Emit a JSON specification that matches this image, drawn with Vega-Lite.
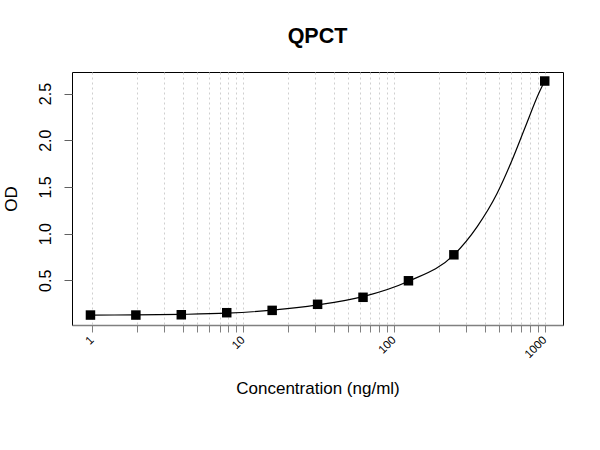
{
  "$schema": "https://vega.github.io/schema/vega-lite/v6.json",
  "autosize": {"type": "none"},
  "padding": {"left": 72, "top": 72, "right": 37, "bottom": 125},
  "width": 491,
  "height": 253,
  "background": "white",
  "title": {
    "text": "QPCT",
    "font": "Liberation Sans",
    "fontSize": 21.5,
    "fontWeight": "bold",
    "color": "black",
    "anchor": "middle",
    "baseline": "alphabetic",
    "offset": 8
  },
  "datasets": {
    "standards": [
      {"conc": 0.977, "od": 0.128},
      {"conc": 1.953, "od": 0.128},
      {"conc": 3.906, "od": 0.131},
      {"conc": 7.813, "od": 0.153},
      {"conc": 15.625, "od": 0.178},
      {"conc": 31.25, "od": 0.243},
      {"conc": 62.5, "od": 0.318},
      {"conc": 125, "od": 0.495},
      {"conc": 250, "od": 0.773},
      {"conc": 1000, "od": 2.634}
    ],
    "fit": [
      {"conc": 0.977, "od": 0.128},
      {"conc": 1.953, "od": 0.129},
      {"conc": 3.906, "od": 0.135},
      {"conc": 7.813, "od": 0.148},
      {"conc": 15.625, "od": 0.18},
      {"conc": 31.25, "od": 0.236},
      {"conc": 62.5, "od": 0.325},
      {"conc": 125, "od": 0.49},
      {"conc": 250, "od": 0.773},
      {"conc": 356, "od": 1.073},
      {"conc": 483, "od": 1.43},
      {"conc": 607, "od": 1.786},
      {"conc": 743, "od": 2.142},
      {"conc": 912, "od": 2.5},
      {"conc": 1000, "od": 2.634}
    ]
  },
  "encoding": {
    "x": {
      "field": "conc",
      "type": "quantitative",
      "scale": {"type": "log", "domain": [0.7371, 1321.3], "nice": false},
      "axis": {
        "title": "Concentration (ng/ml)",
        "titleFont": "Liberation Sans",
        "titleFontSize": 17,
        "titleFontWeight": "normal",
        "titleColor": "black",
        "titleBaseline": "alphabetic",
        "titleY": 68,
        "values": [1, 2, 3, 4, 5, 6, 7, 8, 9, 10, 20, 30, 40, 50, 60, 70, 80, 90, 100, 200, 300, 400, 500, 600, 700, 800, 900, 1000],
        "labelExpr": "datum.value == 1 || datum.value == 10 || datum.value == 100 || datum.value == 1000 ? format(datum.value, 'd') : ''",
        "labelOverlap": false,
        "labelAngle": -45,
        "labelAlign": "right",
        "labelBaseline": "middle",
        "labelFont": "Liberation Sans",
        "labelFontSize": 11.5,
        "labelColor": "black",
        "labelPadding": 6,
        "tickSize": 7,
        "tickColor": "#808080",
        "domainColor": "#808080",
        "domainWidth": 1.5,
        "grid": true,
        "gridColor": "#cfcfcf",
        "gridDash": [2, 3],
        "gridWidth": 1
      }
    },
    "y": {
      "field": "od",
      "type": "quantitative",
      "scale": {"domain": [0.0214, 2.7306], "nice": false, "zero": false},
      "axis": {
        "title": "OD",
        "titleFont": "Liberation Sans",
        "titleFontSize": 17,
        "titleFontWeight": "normal",
        "titleColor": "black",
        "titleAngle": -90,
        "titleBaseline": "alphabetic",
        "titleX": -56,
        "values": [0.5, 1, 1.5, 2, 2.5],
        "format": ".1f",
        "labelAngle": -90,
        "labelAlign": "center",
        "labelBaseline": "alphabetic",
        "labelFont": "Liberation Sans",
        "labelFontSize": 16,
        "labelColor": "black",
        "labelPadding": 14,
        "tickSize": 8,
        "tickColor": "#606060",
        "domain": false,
        "grid": false
      }
    }
  },
  "layer": [
    {
      "data": {"name": "fit"},
      "mark": {"type": "line", "interpolate": "monotone", "color": "black", "strokeWidth": 1.2}
    },
    {
      "data": {"name": "standards"},
      "mark": {"type": "square", "size": 90, "color": "black", "opacity": 1}
    }
  ],
  "config": {
    "view": {"stroke": "black", "strokeWidth": 1}
  }
}
